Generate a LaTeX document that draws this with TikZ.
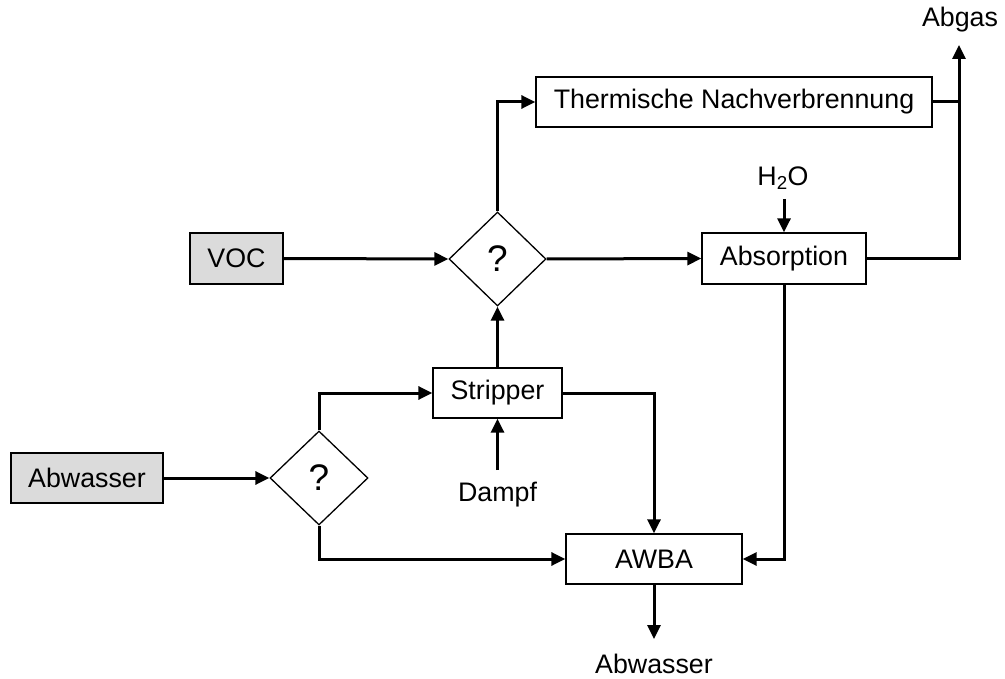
\documentclass[tikz,border=0pt]{standalone}
\usepackage{fontspec}
\setmainfont{Liberation Sans}
\usetikzlibrary{shapes.geometric,arrows.meta}
\begin{document}
\begin{tikzpicture}[x=1pt,y=-1pt,
  every node/.style={font=\fontsize{26.8}{30}\selectfont},
  box/.style={draw,line width=1.3pt,rectangle,inner sep=0pt},
  src/.style={box,fill=black!14},
  dec/.style={draw,line width=1.3pt,diamond,inner sep=0pt,font=\fontsize{37}{40}\selectfont},
  lbl/.style={inner sep=0pt},
  flow/.style={line width=3pt,-{Triangle[length=14pt,width=13pt]}},
  pipe/.style={line width=3pt}]
\useasboundingbox (0,0) rectangle (1005,679);
\node[src,minimum width=93pt,minimum height=51pt] (voc) at (236.5,258.5) {VOC};
\node[src,minimum width=152pt,minimum height=50pt] (abw) at (87,478) {Abwasser};
\node[dec,minimum width=97pt,minimum height=94pt] (q1) at (497.5,259) {?};
\node[dec,minimum width=98pt,minimum height=94pt] (q2) at (319,478) {?};
\node[box,minimum width=396pt,minimum height=50pt] (tnv) at (734,102) {Thermische Nachverbrennung};
\node[box,minimum width=164pt,minimum height=51pt] (abs) at (784,258.5) {Absorption};
\node[box,minimum width=129pt,minimum height=50pt] (str) at (497.5,393) {Stripper};
\node[box,minimum width=176pt,minimum height=50pt] (awba) at (654,559) {AWBA};
\node[lbl] (h2o) at (783,178) {H\textsubscript{2}O};
\node[lbl] (abgas) at (960,20) {Abgas};
\node[lbl] (dampf) at (497.5,495) {Dampf};
\node[lbl] (abwout) at (654,664) {Abwasser};
\coordinate (h2otop) at (784,199);
\coordinate (abgtip) at (959,45);
\coordinate (damptop) at (497.5,470);
\coordinate (abwtip) at (654,639);
\coordinate (join) at (959,102);
\draw[flow] (voc.east) -- (q1.west);
\draw[flow] (q1.north) |- (tnv.west);
\draw[flow] (q1.east) -- (abs.west);
\draw[flow] (abs.east) -| (abgtip);
\draw[pipe] (tnv.east) -- (join);
\draw[flow] (h2otop) -- (abs.north);
\draw[flow] (abs.south) |- (awba.east);
\draw[flow] (str.north) -- (q1.south);
\draw[flow] (abw.east) -- (q2.west);
\draw[flow] (q2.north) |- (str.west);
\draw[flow] (q2.south) |- (awba.west);
\draw[flow] (str.east) -| (awba.north);
\draw[flow] (damptop) -- (str.south);
\draw[flow] (awba.south) -- (abwtip);
\end{tikzpicture}
\end{document}
